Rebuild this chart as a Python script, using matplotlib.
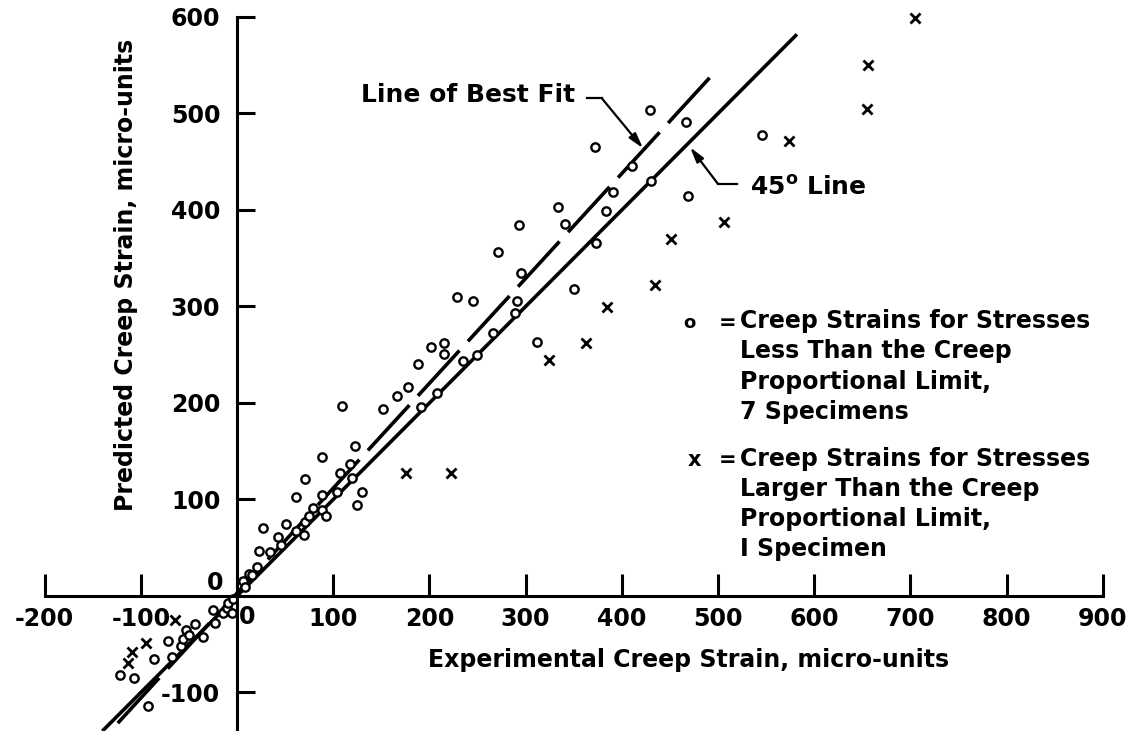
import numpy as np
import matplotlib
matplotlib.use('Agg')
import matplotlib.pyplot as plt

plt.rcParams['font.family'] = 'DejaVu Sans'
plt.rcParams['font.weight'] = 'bold'
plt.rcParams['axes.unicode_minus'] = False
plt.rcParams['mathtext.fontset'] = 'dejavusans'

# Creep strains, stresses below the creep proportional limit (7 specimens)
exp_less = [-122, -107, -93, -86, -72, -68, -58, -56, -53, -50, -44, -35, -23, -25,
            -15, -10, -9, -5, -4,
            6, 8, 12, 16, 21, 23, 27, 34, 43, 46, 51, 61, 61, 70, 71, 71, 75, 79,
            88, 88, 88, 93, 104, 107, 117, 120, 123, 125, 130, 109,
            152, 166, 178, 188, 191, 202, 208, 215, 215, 229, 235, 245, 249, 266,
            271, 289, 291, 293, 295, 312, 334, 341, 350, 372, 373, 384, 391, 411,
            429, 430, 467, 469, 546]
pred_less = [-82, -85, -114, -65, -47, -63, -52, -45, -35, -40, -29, -42, -28, -15,
             -18, -12, -7, -18, -3,
             16, 9, 23, 22, 30, 47, 70, 46, 61, 53, 75, 67, 103, 63, 77, 121, 83, 91,
             144, 105, 89, 83, 108, 127, 137, 122, 155, 94, 108, 197,
             194, 207, 217, 240, 196, 258, 210, 262, 251, 310, 244, 306, 250, 273,
             356, 293, 306, 384, 335, 263, 403, 385, 318, 465, 366, 399, 419, 446,
             504, 430, 491, 415, 478]

# Creep strains, stresses above the creep proportional limit (1 specimen)
exp_larger = [-64, -95, -109, -113, 176, 222, 324, 363, 385, 435, 451, 506, 574, 655, 656, 705]
pred_larger = [-25, -49, -58, -69, 127, 127, 245, 262, 299, 322, 370, 388, 471, 505, 550, 599]

# 45 degree line and line of best fit
line45_x = [-140, 582]
fit_x = [-124, 498]
fit_slope = 1.087
fit_intercept = 3.0

x_ticks = [-200, -100, 0, 100, 200, 300, 400, 500, 600, 700, 800, 900]
y_ticks = [-100, 0, 100, 200, 300, 400, 500, 600]

fig = plt.figure(figsize=(11.33, 7.31), dpi=100)
ax = fig.add_axes([0, 0, 1, 1])
ax.set_xlim(-246.4, 931.4)
ax.set_ylim(-139.9, 617.6)

# axes crossing at the origin
for s in ['top', 'right']:
    ax.spines[s].set_visible(False)
ax.spines['left'].set_position(('data', 0))
ax.spines['bottom'].set_position(('data', 0))
ax.spines['left'].set_bounds(-139.9, 600)
ax.spines['bottom'].set_bounds(-200, 900)
ax.spines['left'].set_linewidth(2.2)
ax.spines['bottom'].set_linewidth(2.2)

ax.set_xticks(x_ticks)
ax.set_yticks(y_ticks)
ax.set_xticklabels(['' if t == 0 else str(t) for t in x_ticks])
ax.set_yticklabels(['' if t == 0 else str(t) for t in y_ticks])
ax.tick_params(axis='x', direction='in', length=16, width=2.2, pad=8, labelsize=17)
ax.tick_params(axis='y', direction='in', length=13, width=2.2, pad=12, labelsize=17)
ax.text(11, -22, '0', fontsize=17, ha='center', va='center')
ax.text(-23, 13, '0', fontsize=17, ha='center', va='center')

ax.text(469, -66, 'Experimental Creep Strain, micro-units', fontsize=17,
        ha='center', va='center')
ax.text(-115, 333, 'Predicted Creep Strain, micro-units', fontsize=17,
        ha='center', va='center', rotation=90)

# reference lines
ax.plot(line45_x, line45_x, color='black', lw=2.6, solid_capstyle='butt')
fit_x = np.array(fit_x)
ax.plot(fit_x, fit_slope * fit_x + fit_intercept, color='black', lw=2.6,
        dashes=(17, 3.5), dash_capstyle='butt')

# data points
ax.plot(exp_less, pred_less, 'o', ms=6, mfc='white', mec='black', mew=1.7, ls='none')
ax.plot(exp_larger, pred_larger, 'x', ms=6.5, color='black', mew=2.0, ls='none')

# labels with leader arrows
arrow = dict(arrowstyle='-|>,head_length=0.9,head_width=0.25', color='black', lw=1.6,
             shrinkA=0, shrinkB=0)
ax.text(351, 519, 'Line of Best Fit', fontsize=18, ha='right', va='center')
ax.plot([364, 379], [516, 516], color='black', lw=1.6)
ax.annotate('', xy=(422, 464), xytext=(379, 516), arrowprops=arrow)

ax.text(533, 423, r'45$^{\mathbf{o}}$ Line', fontsize=18, ha='left', va='center')
ax.plot([520, 500], [427, 427], color='black', lw=1.6)
ax.annotate('', xy=(471, 465), xytext=(500, 427), arrowprops=arrow)

# key
ax.text(470, 283, 'o', fontsize=13, ha='center', va='center')
ax.text(510, 283, '=', fontsize=15, ha='center', va='center')
ax.text(523, 237.8, 'Creep Strains for Stresses\nLess Than the Creep\n'
        'Proportional Limit,\n7 Specimens', fontsize=17, ha='left', va='center',
        linespacing=1.33)
ax.text(475, 141, 'x', fontsize=15, ha='center', va='center')
ax.text(510, 141, '=', fontsize=15, ha='center', va='center')
ax.text(523, 95.3, 'Creep Strains for Stresses\nLarger Than the Creep\n'
        'Proportional Limit,\nI Specimen', fontsize=17, ha='left', va='center',
        linespacing=1.33)

fig.savefig('out.png', dpi=100)
